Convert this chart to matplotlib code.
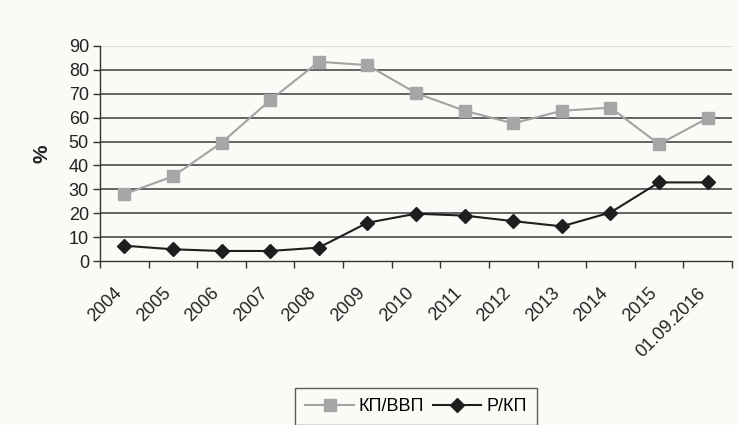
import matplotlib.pyplot as plt
import matplotlib.transforms as mtransforms
import numpy as np

plt.rcParams['font.family'] = ['Liberation Sans', 'DejaVu Sans']

# Годы и показатели, %
labels = ['2004', '2005', '2006', '2007', '2008', '2009', '2010', '2011',
          '2012', '2013', '2014', '2015', '01.09.2016']
kp_vvp = [28.0, 35.4, 49.5, 67.3, 83.4, 82.0, 70.3, 62.9, 57.6, 62.9, 64.2, 48.9, 59.8]
r_kp = [6.4, 4.9, 4.2, 4.2, 5.6, 16.0, 19.8, 19.0, 16.7, 14.5, 20.3, 32.9, 32.9]

bg = '#fcfaf7'
fig = plt.figure(figsize=(7.37, 4.25), dpi=100, facecolor=bg)
ax = fig.add_axes([100/737, 1-261/425, 632/737, 215/425], facecolor=bg)

x = np.arange(len(labels))
ax.plot(x, kp_vvp, color='#a3a3a3', lw=1.5, marker='s', ms=8,
        mfc='#a6a6a6', mec='#a6a6a6', label='КП/ВВП', zorder=3)
ax.plot(x, r_kp, color='#1e1e1e', lw=1.5, marker='D', ms=7,
        mfc='#1e1e1e', mec='#1e1e1e', label='Р/КП', zorder=3)

ax.set_xlim(-0.5, len(labels) - 0.5)
ax.set_ylim(0, 90)
ax.set_yticks(range(0, 91, 10))
for v in range(10, 81, 10):
    ax.axhline(v, color='#3a3a3a', lw=1.1, zorder=1)
ax.axhline(90, color='#dcdcdc', lw=1.0, zorder=1)

# деления между годами, подписи под центрами
ax.set_xticks(np.arange(-0.5, len(labels), 1.0))
ax.set_xticklabels([])
ax.set_xticks(x, minor=True)
ax.set_xticklabels(labels, minor=True, rotation=45, ha='right', va='top',
                   rotation_mode='anchor', fontsize=13, color='#222222')
ax.tick_params(axis='x', which='minor', length=0, pad=17)
ax.tick_params(axis='x', which='major', length=5, width=1, color='#333333')
shift = mtransforms.ScaledTranslation(-0.11, 0, fig.dpi_scale_trans)
for lab in ax.get_xticklabels(minor=True):
    lab.set_transform(lab.get_transform() + shift)

ax.tick_params(axis='y', length=5, width=1, color='#333333', labelsize=13,
               labelcolor='#222222', pad=3)

for s in ['top', 'right']:
    ax.spines[s].set_visible(False)
for s in ['left', 'bottom']:
    ax.spines[s].set_color('#333333')
    ax.spines[s].set_linewidth(1)

ax.set_ylabel('%', fontsize=15, fontweight='bold', color='#222222')
ax.yaxis.set_label_coords(-0.077, 0.5)

leg = fig.legend(loc='upper center', bbox_to_anchor=(416/737, 1-388/425),
                 ncol=2, frameon=True, fancybox=False, edgecolor='#333333',
                 facecolor=bg, fontsize=13, handlelength=2.7, handletextpad=0.28,
                 columnspacing=0.45, borderpad=0.55, borderaxespad=0)
leg.get_frame().set_linewidth(1)

fig.savefig('out.png', dpi=100, facecolor=bg)
